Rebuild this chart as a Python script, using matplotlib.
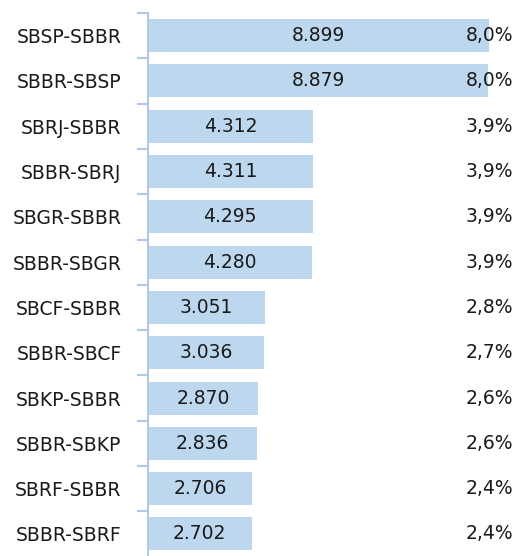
import matplotlib
matplotlib.use("Agg")
import matplotlib.pyplot as plt
from matplotlib.ticker import FixedLocator

routes = ["SBSP-SBBR", "SBBR-SBSP", "SBRJ-SBBR", "SBBR-SBRJ", "SBGR-SBBR", "SBBR-SBGR",
          "SBCF-SBBR", "SBBR-SBCF", "SBKP-SBBR", "SBBR-SBKP", "SBRF-SBBR", "SBBR-SBRF"]
values = [8899, 8879, 4312, 4311, 4295, 4280, 3051, 3036, 2870, 2836, 2706, 2702]
shares = [8.0, 8.0, 3.9, 3.9, 3.9, 3.9, 2.8, 2.7, 2.6, 2.6, 2.4, 2.4]

plt.rcParams['font.family'] = ['DejaVu Sans']

W, H = 518, 556
fig = plt.figure(figsize=(W / 100, H / 100), dpi=100)
left_px, right_px = 148, 518
top_px, bottom_px = 13, 556.6
ax = fig.add_axes([left_px / W, 1 - bottom_px / H, (right_px - left_px) / W, (bottom_px - top_px) / H])

scale = (489 - 148) / 8899.0
xmax = (right_px - left_px) / scale
n = len(routes)
ypos = list(range(n))
ax.barh(ypos, values, height=0.73, color="#BDD7EE", zorder=2)
ax.set_xlim(0, xmax)
ax.set_ylim(n - 0.5, -0.5)

def fmt_thousands(v):
    return f"{v:,}".replace(",", ".")

for y, v, s in zip(ypos, values, shares):
    ax.text(v / 2, y, fmt_thousands(v), ha="center", va="center", fontsize=13.5, color="#1a1a1a")
    ax.text(xmax - 5 / scale, y, f"{s:.1f}%".replace(".", ","), ha="right", va="center",
            fontsize=13.5, color="#1a1a1a")

ax.set_yticks(ypos)
ax.set_yticklabels(routes, fontsize=13.5, color="#1a1a1a")
ax.tick_params(axis="y", which="major", length=0, pad=19)
ax.yaxis.set_minor_locator(FixedLocator([i - 0.5 for i in range(n + 1)]))
ax.tick_params(axis="y", which="minor", length=8, width=1.5, color="#B4C7E7")
ax.set_xticks([])
for sp in ["top", "right", "bottom"]:
    ax.spines[sp].set_visible(False)
ax.spines["left"].set_color("#B4C7E7")
ax.spines["left"].set_linewidth(1.5)

fig.savefig("out.png", dpi=100)
